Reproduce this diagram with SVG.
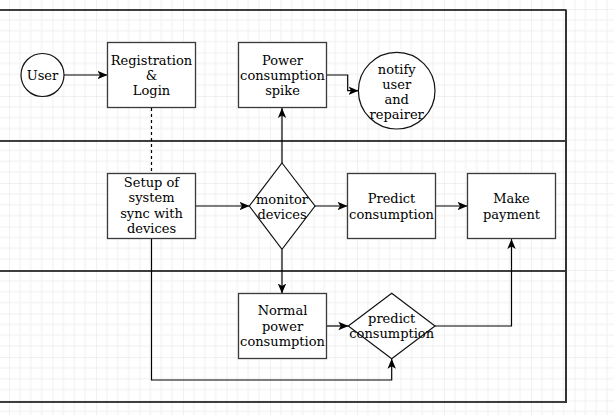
<svg xmlns="http://www.w3.org/2000/svg" width="614" height="415" viewBox="0 0 614 415">
<defs>
<pattern id="grid" patternUnits="userSpaceOnUse" x="9" y="9" width="43.5" height="43.5">
<path d="M10.875 0V43.5M21.75 0V43.5M32.625 0V43.5M0 10.875H43.5M0 21.75H43.5M0 32.625H43.5" stroke="#f0f0f0" stroke-width="1" fill="none"/>
<path d="M0 0V43.5M0 0H43.5" stroke="#e4e4e4" stroke-width="1" fill="none"/>
</pattern>
<marker id="arr" viewBox="0 0 10 10" refX="10" refY="5" markerWidth="10" markerHeight="10" markerUnits="userSpaceOnUse" orient="auto">
<path d="M0 0.8L10 5L0 9.2L2.5 5Z" fill="#000"/>
</marker>
<style>
.n{fill:#fff;stroke:#3a3a3a;stroke-width:1.3}
.e{fill:#fff;stroke:#111;stroke-width:1.2}
.t{font-family:"DejaVu Serif",serif;font-size:13px;fill:#000;text-anchor:middle}
.c{fill:none;stroke:#000;stroke-width:1.2}
.pool{fill:none;stroke:#000;stroke-width:1.4}
</style>
</defs>
<rect width="614" height="415" fill="#fff"/>
<rect width="614" height="415" fill="url(#grid)"/>
<g id="pool">
<path class="pool" d="M0 10H566M0 141H566M0 271H566M0 402H566"/>
<path d="M566 9.5V403" stroke="#333" stroke-width="2" fill="none"/>
</g>
<g id="connectors">
<path class="c" d="M64 75H107.5" marker-end="url(#arr)"/>
<path class="c" d="M151.5 108V173.5" stroke-dasharray="3 3"/>
<path class="c" d="M195.5 206H249.5" marker-end="url(#arr)"/>
<path class="c" d="M282 163V108" marker-end="url(#arr)"/>
<path class="c" d="M326.5 75H347.7V90.7H358.5" marker-end="url(#arr)"/>
<path class="c" d="M315 206H347.5" marker-end="url(#arr)"/>
<path class="c" d="M435.5 206H467.5" marker-end="url(#arr)"/>
<path class="c" d="M282 249.5V293.5" marker-end="url(#arr)"/>
<path class="c" d="M326.5 326H348.3" marker-end="url(#arr)"/>
<path class="c" d="M435 326H511.5V239" marker-end="url(#arr)"/>
<path class="c" d="M151.5 239V380H391.7V358.7" marker-end="url(#arr)"/>
</g>
<g id="user">
<circle class="e" cx="42.5" cy="75" r="21.5"/>
<text class="t" x="42.5" y="79.5">User</text>
</g>
<g id="registration">
<rect class="n" x="107.5" y="42.5" width="88" height="65"/>
<text class="t"><tspan x="151.5" y="64.5">Registration</tspan><tspan x="151.5" y="79.5">&amp;</tspan><tspan x="151.5" y="94.5">Login</tspan></text>
</g>
<g id="power-spike">
<rect class="n" x="238.5" y="42.5" width="88" height="65"/>
<text class="t"><tspan x="282.5" y="64.5">Power</tspan><tspan x="282.5" y="79.5">consumption</tspan><tspan x="282.5" y="94.5">spike</tspan></text>
</g>
<g id="notify">
<circle class="e" cx="396.7" cy="90.7" r="38.3"/>
<text class="t"><tspan x="396.7" y="73.5">notify</tspan><tspan x="396.7" y="88.5">user</tspan><tspan x="396.7" y="103.5">and</tspan><tspan x="396.7" y="119">repairer</tspan></text>
</g>
<g id="setup">
<rect class="n" x="107.5" y="173.5" width="88" height="65"/>
<text class="t"><tspan x="151.5" y="187">Setup of</tspan><tspan x="151.5" y="202.3">system</tspan><tspan x="151.5" y="217.5">sync with</tspan><tspan x="151.5" y="232.5">devices</tspan></text>
</g>
<g id="monitor">
<path class="e" d="M282 163L315 206L282 249.3L249.3 206Z"/>
<text class="t"><tspan x="282" y="203.5">monitor</tspan><tspan x="282" y="218.5">devices</tspan></text>
</g>
<g id="predict">
<rect class="n" x="347.5" y="173.5" width="88" height="65"/>
<text class="t"><tspan x="391.5" y="202.8">Predict</tspan><tspan x="391.5" y="218.5">consumption</tspan></text>
</g>
<g id="payment">
<rect class="n" x="467.5" y="173.5" width="88" height="65"/>
<text class="t"><tspan x="511.5" y="202.8">Make</tspan><tspan x="511.5" y="218.5">payment</tspan></text>
</g>
<g id="normal">
<rect class="n" x="238.5" y="293.5" width="88" height="65"/>
<text class="t"><tspan x="282.5" y="315">Normal</tspan><tspan x="282.5" y="330.8">power</tspan><tspan x="282.5" y="346">consumption</tspan></text>
</g>
<g id="predict-diamond">
<path class="e" d="M391.7 293.3L435 326L391.7 358.7L348.3 326Z"/>
<text class="t"><tspan x="391.7" y="322.7">predict</tspan><tspan x="391.7" y="338.3">consumption</tspan></text>
</g>
</svg>
